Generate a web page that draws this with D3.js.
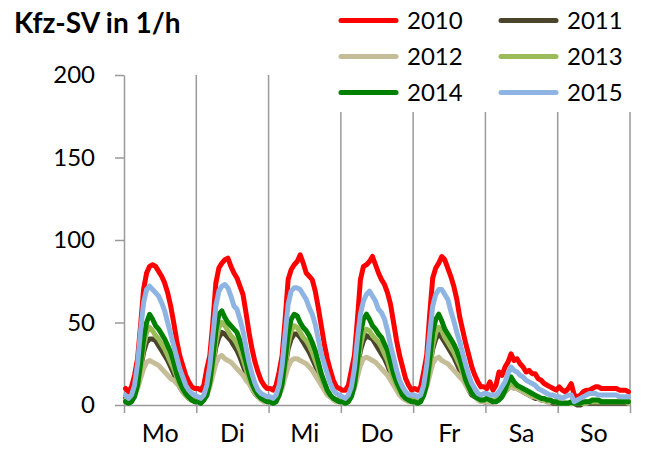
<!DOCTYPE html>
<html>
<head>
<meta charset="utf-8">
<script src="https://cdn.jsdelivr.net/npm/d3@7"></script>
<style>
  body { margin: 0; background: #fff; }
  svg { display: block; }
  text { font-family: Lato, "Open Sans", sans-serif; fill: #000; }
</style>
</head>
<body>
<svg id="chart" width="645" height="450"></svg>
<script>
// Hourly heavy-vehicle flow (Kfz-SV per hour), one value per hour, Monday 0:00 to Sunday 23:00
const days = ["Mo", "Di", "Mi", "Do", "Fr", "Sa", "So"];
const yTicks = [0, 50, 100, 150, 200];
const years = ["2010", "2011", "2012", "2013", "2014", "2015"];

const v2010 = [
  10, 8, 11, 18, 28, 48, 70, 80, 84, 85, 84, 81, 78, 74, 68, 60, 50, 39, 30, 24, 18, 14, 11, 10,
  10, 9, 12, 22, 30, 50, 74, 83, 86, 88, 89, 84, 80, 77, 72, 67, 56, 44, 34, 26, 20, 15, 12, 10,
  10, 9, 12, 20, 30, 52, 76, 82, 85, 87, 91, 86, 80, 78, 76, 69, 59, 48, 37, 28, 21, 15, 11, 10,
  9, 9, 12, 21, 30, 52, 76, 84, 85, 87, 90, 85, 80, 76, 73, 68, 61, 50, 39, 30, 23, 16, 12, 9,
  10, 9, 11, 20, 30, 55, 77, 83, 86, 90, 88, 83, 78, 72, 64, 53, 45, 37, 30, 23, 18, 14, 11, 11,
  10, 14, 9, 12, 20, 18, 23, 26, 31, 27, 28, 25, 23, 20, 21, 19, 19, 16, 15, 13, 12, 11, 10, 9,
  11, 9, 8, 10, 13, 6, 5, 6, 8, 9, 9, 10, 11, 11, 10, 10, 10, 10, 10, 10, 9, 9, 9, 8
];
const v2011 = [
  4, 3, 4, 8, 14, 22, 32, 38, 40, 40, 39, 36, 33, 30, 27, 23, 19, 15, 11, 8, 6, 4, 3, 3,
  4, 3, 4, 8, 14, 24, 35, 41, 44, 43, 41, 39, 36, 33, 29, 24, 19, 14, 10, 7, 5, 4, 3, 3,
  3, 3, 4, 8, 14, 23, 34, 40, 43, 43, 41, 38, 35, 32, 28, 24, 19, 14, 10, 7, 5, 4, 3, 3,
  3, 3, 4, 8, 14, 23, 33, 39, 42, 41, 40, 37, 34, 31, 28, 24, 19, 14, 10, 7, 5, 4, 3, 3,
  3, 3, 4, 8, 14, 23, 34, 40, 43, 41, 38, 35, 32, 29, 25, 21, 17, 13, 9, 6, 5, 4, 3, 2,
  2, 2, 2, 3, 4, 6, 8, 10, 12, 11, 10, 9, 8, 7, 6, 5, 4, 4, 3, 3, 2, 2, 1, 1,
  1, 1, 1, 1, 1, 1, 0, 0, 1, 1, 1, 1, 1, 1, 1, 1, 1, 1, 1, 1, 1, 1, 1, 1
];
const v2012 = [
  3, 2, 3, 6, 10, 16, 22, 26, 27, 26, 25, 24, 22, 20, 18, 16, 15, 13, 11, 8, 6, 4, 3, 2,
  3, 2, 3, 6, 11, 18, 25, 29, 30, 28, 27, 26, 24, 22, 20, 18, 15, 13, 10, 7, 5, 3, 2, 2,
  3, 2, 3, 6, 10, 17, 23, 27, 28, 28, 27, 26, 25, 23, 21, 18, 15, 12, 9, 6, 5, 3, 2, 2,
  3, 2, 3, 6, 10, 17, 24, 28, 29, 28, 27, 26, 24, 22, 20, 18, 15, 12, 9, 6, 4, 3, 2, 2,
  3, 2, 3, 6, 11, 18, 25, 28, 29, 27, 26, 25, 23, 21, 19, 17, 15, 12, 9, 7, 5, 3, 2, 2,
  2, 2, 2, 3, 4, 6, 8, 10, 11, 10, 10, 9, 8, 7, 6, 5, 5, 4, 3, 3, 2, 2, 2, 2,
  1, 1, 1, 1, 1, 1, 1, 1, 1, 1, 2, 2, 2, 2, 2, 2, 2, 2, 2, 2, 2, 2, 2, 1
];
const v2013 = [
  3, 2, 3, 6, 12, 22, 35, 44, 47, 45, 42, 40, 37, 34, 30, 26, 22, 17, 12, 9, 6, 4, 3, 3,
  3, 2, 3, 6, 13, 24, 38, 47, 50, 48, 45, 42, 40, 37, 33, 28, 22, 16, 12, 8, 6, 4, 3, 3,
  3, 2, 3, 6, 12, 23, 37, 45, 48, 47, 44, 41, 39, 36, 32, 27, 22, 16, 12, 8, 6, 4, 3, 3,
  3, 2, 3, 6, 12, 23, 36, 44, 46, 45, 42, 40, 38, 35, 31, 27, 21, 16, 12, 8, 6, 4, 3, 3,
  3, 2, 3, 6, 12, 23, 36, 44, 47, 45, 41, 38, 35, 32, 28, 24, 19, 14, 10, 7, 5, 4, 3, 3,
  4, 3, 3, 3, 4, 5, 8, 11, 13, 12, 11, 10, 9, 8, 7, 6, 5, 5, 4, 3, 3, 3, 2, 2,
  2, 1, 1, 1, 1, 1, 1, 1, 1, 2, 2, 2, 2, 2, 2, 2, 2, 2, 2, 2, 2, 2, 2, 2
];
const v2014 = [
  2, 1, 2, 5, 12, 25, 40, 50, 55, 52, 48, 46, 43, 40, 36, 32, 26, 19, 14, 10, 7, 5, 3, 2,
  2, 1, 3, 6, 14, 28, 45, 55, 57, 53, 50, 48, 46, 44, 39, 33, 26, 19, 13, 9, 6, 4, 3, 2,
  2, 1, 2, 6, 13, 27, 43, 52, 55, 54, 50, 47, 45, 42, 38, 33, 26, 19, 14, 9, 6, 4, 3, 2,
  2, 1, 2, 5, 12, 26, 43, 52, 55, 52, 48, 46, 43, 41, 37, 33, 26, 19, 14, 10, 6, 4, 3, 2,
  2, 1, 2, 6, 13, 27, 44, 52, 55, 51, 46, 43, 40, 37, 33, 28, 22, 15, 11, 7, 5, 4, 3, 3,
  4, 3, 2, 2, 3, 5, 9, 14, 17, 14, 12, 11, 10, 9, 8, 7, 6, 5, 4, 4, 3, 3, 2, 2,
  1, 1, 1, 1, 2, 1, 1, 1, 2, 2, 2, 3, 3, 3, 2, 2, 2, 2, 2, 2, 2, 2, 2, 2
];
const v2015 = [
  6, 4, 6, 12, 25, 45, 62, 70, 72, 70, 68, 66, 62, 57, 50, 43, 36, 29, 22, 17, 12, 9, 7, 6,
  5, 4, 6, 12, 24, 42, 60, 69, 72, 73, 71, 66, 60, 58, 52, 45, 35, 26, 19, 13, 9, 7, 6, 5,
  5, 4, 6, 12, 24, 43, 61, 69, 71, 71, 70, 67, 64, 59, 55, 49, 40, 31, 25, 19, 13, 9, 7, 6,
  5, 4, 6, 11, 22, 40, 55, 63, 67, 69, 66, 63, 58, 56, 52, 45, 36, 29, 21, 15, 11, 8, 6, 6,
  6, 5, 6, 12, 24, 43, 60, 67, 70, 70, 67, 64, 57, 51, 44, 38, 31, 24, 18, 13, 10, 7, 6, 7,
  7, 6, 6, 6, 8, 11, 14, 19, 23, 21, 20, 18, 17, 15, 14, 13, 12, 10, 9, 8, 7, 6, 6, 5,
  5, 4, 5, 6, 6, 2, 3, 4, 5, 6, 7, 7, 7, 6, 6, 6, 6, 6, 6, 6, 5, 5, 5, 5
];
const colors = ["#FF0000", "#4A452A", "#C4BD97", "#9BBB59", "#008000", "#8DB4E2"];

const series = years.map((name, i) => ({
  name, color: colors[i], values: [v2010, v2011, v2012, v2013, v2014, v2015][i]
}));

const hours = v2010.length;
const svg = d3.select("#chart");
const grey = "#9A9A9A";

const x = d3.scaleLinear().domain([0, hours]).range([124, 630]);
const y = d3.scaleLinear().domain([0, 200]).range([405, 75]);

// Day separators
svg.append("g")
  .selectAll("line")
  .data(d3.range(1, days.length + 1))
  .join("line")
  .attr("x1", d => x(d * 24)).attr("x2", d => x(d * 24))
  .attr("y1", y(200)).attr("y2", y(0))
  .attr("stroke", grey).attr("stroke-width", 1.5);

// Y axis
const yAxis = svg.append("g")
  .attr("transform", `translate(${x(0)},0)`)
  .call(d3.axisLeft(y).tickValues(yTicks).tickSize(9).tickPadding(20).tickSizeOuter(0));
yAxis.select(".domain").attr("stroke", grey).attr("stroke-width", 1.5);
yAxis.selectAll(".tick line").attr("stroke", grey).attr("stroke-width", 1.5);
yAxis.selectAll(".tick text")
  .style("font-family", "Lato, 'Open Sans', sans-serif")
  .attr("font-size", 24).attr("fill", "#000");

// X axis: tick marks at day boundaries, day names centred in each day
const xAxis = svg.append("g")
  .attr("transform", `translate(0,${y(0)})`)
  .call(d3.axisBottom(x).tickValues(d3.range(0, hours + 1, 24)).tickSize(8).tickFormat("").tickSizeOuter(0));
xAxis.select(".domain").attr("stroke", grey).attr("stroke-width", 1.5);
xAxis.selectAll(".tick line").attr("stroke", grey).attr("stroke-width", 1.5);

svg.append("g")
  .selectAll("text")
  .data(days)
  .join("text")
  .attr("x", (d, i) => x(i * 24 + 12))
  .attr("y", 442)
  .attr("text-anchor", "middle")
  .attr("font-size", 25)
  .text(d => d);

// Series lines
const line = d3.line()
  .x((d, i) => x(i + 0.5))
  .y(d => y(d));

svg.append("g")
  .selectAll("path")
  .data(series)
  .join("path")
  .attr("d", d => line(d.values))
  .attr("fill", "none")
  .attr("stroke", d => d.color)
  .attr("stroke-width", 5)
  .attr("stroke-linejoin", "round")
  .attr("stroke-linecap", "round");

// Title
svg.append("text")
  .attr("x", 14).attr("y", 33)
  .attr("font-size", 28)
  .attr("font-weight", "bold")
  .text("Kfz-SV in 1/h");

// Legend (white box over the top of the plot)
const legend = svg.append("g");
legend.append("rect")
  .attr("x", 330).attr("y", 0).attr("width", 315).attr("height", 112)
  .attr("fill", "#fff");

const item = legend.selectAll("g.item")
  .data(series)
  .join("g")
  .attr("class", "item")
  .attr("transform", (d, i) => `translate(${i % 2 === 0 ? 341 : 501},${20.5 + Math.floor(i / 2) * 36})`);

item.append("line")
  .attr("x1", 0).attr("x2", 55)
  .attr("stroke", d => d.color)
  .attr("stroke-width", 5)
  .attr("stroke-linecap", "round");

item.append("text")
  .attr("x", 66).attr("y", 8.5)
  .attr("font-size", 24)
  .text(d => d.name);
</script>
</body>
</html>
